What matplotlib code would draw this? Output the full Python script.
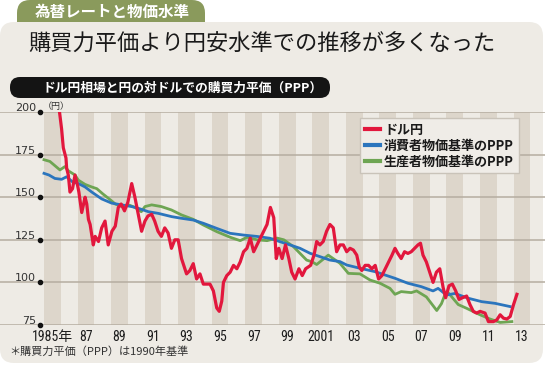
import matplotlib
matplotlib.use("Agg")
import matplotlib.pyplot as plt
from matplotlib.patches import FancyBboxPatch

plt.rcParams['font.family'] = ['Noto Sans CJK JP', 'DejaVu Sans']

# ---- data ----
usdjpy_t = [1985.0, 1985.3, 1985.6, 1985.75, 1985.9, 1986.05, 1986.15, 1986.31, 1986.35, 1986.45,
            1986.55, 1986.7, 1986.85, 1987.0, 1987.08, 1987.25, 1987.45, 1987.55, 1987.65, 1987.75,
            1987.94, 1988.05, 1988.25, 1988.44, 1988.64, 1988.83, 1989.05, 1989.25, 1989.43, 1989.6,
            1989.8, 1990.0, 1990.23, 1990.42, 1990.62, 1990.82, 1991.02, 1991.2, 1991.42, 1991.6,
            1991.8, 1992.0, 1992.2, 1992.4, 1992.6, 1992.8, 1993.0, 1993.2, 1993.5, 1993.7,
            1993.9, 1994.1, 1994.3, 1994.5, 1994.7, 1994.9, 1995.1, 1995.3, 1995.45, 1995.6,
            1995.7, 1995.9, 1996.1, 1996.3, 1996.5, 1996.7, 1996.9, 1997.1, 1997.3, 1997.5,
            1997.7, 1997.9, 1998.1, 1998.3, 1998.5, 1998.7, 1998.85, 1999.0, 1999.2, 1999.4,
            1999.6, 1999.77, 1999.97, 2000.2, 2000.4, 2000.6, 2000.9, 2001.1, 2001.26, 2001.45,
            2001.65, 2001.85, 2002.05, 2002.25, 2002.45, 2002.65, 2002.85, 2003.05, 2003.25, 2003.45,
            2003.65, 2003.8, 2003.95, 2004.15, 2004.35, 2004.55, 2004.75, 2004.95, 2005.15, 2005.35,
            2005.55, 2005.75, 2005.93, 2006.1, 2006.3, 2006.5, 2006.7, 2006.9, 2007.1, 2007.3,
            2007.45, 2007.6, 2007.8, 2008.0, 2008.2, 2008.4, 2008.6, 2008.8, 2008.95, 2009.15,
            2009.35, 2009.55, 2009.75, 2009.95, 2010.2, 2010.4, 2010.6, 2010.8, 2011.0, 2011.3,
            2011.5, 2011.8, 2012.0, 2012.2, 2012.4, 2012.6, 2012.8, 2013.0, 2013.2]
usdjpy = [254, 250, 240, 220, 202, 190, 179, 173, 167, 163,
          153, 155, 163, 157, 153, 141, 150, 146, 137, 134,
          122, 127, 124, 132, 136, 122, 130, 133, 144, 146,
          142, 147, 158, 150, 140, 130, 136, 139, 140, 136,
          130, 127, 132, 129, 120, 125, 125, 114, 105, 107,
          111, 102, 105, 99, 99, 99, 95, 85, 83, 89,
          100, 104, 106, 110, 108, 112, 118, 120, 126, 118,
          122, 126, 130, 134, 144, 138, 114, 120, 114, 122,
          114, 106, 102, 108, 104, 108, 110, 116, 124, 122,
          124, 130, 134, 132, 118, 122, 122, 118, 120, 119,
          116, 109, 107, 110, 110, 108, 110, 102, 104, 108,
          112, 116, 120, 117, 114, 118, 117, 118, 120, 122,
          123, 116, 112, 106, 100, 106, 108, 97, 91, 98,
          99, 95, 90, 91, 92, 87, 83, 82, 83, 82,
          77, 77, 78, 81, 79, 78.5, 80, 87, 93]

cpi_t = [1985.0, 1985.3, 1985.65, 1986.05, 1986.35, 1986.7, 1987.05, 1987.45, 1987.85, 1988.44,
         1989.04, 1989.63, 1990.23, 1990.62, 1991.22, 1991.82, 1992.61, 1993.21, 1993.9, 1994.5,
         1995.3, 1996.1, 1996.88, 1997.68, 1998.48, 1999.07, 1999.67, 2000.27, 2000.86, 2001.46,
         2002.05, 2002.65, 2003.05, 2003.84, 2004.74, 2005.93, 2006.7, 2007.5, 2008.2, 2008.5,
         2009.0, 2009.5, 2010.3, 2011.1, 2011.9, 2012.8]
cpi_ppp = [164, 163, 161, 160.5, 162, 159, 158, 156, 153, 149,
           146.5, 145.5, 144.5, 143.5, 141.5, 140.5, 138.6, 137.6, 136.6, 134.7,
           131.7, 128.8, 127.8, 127, 125.9, 123.9, 122, 120, 117.1, 115.1,
           113.1, 112.2, 110.2, 108.3, 106.3, 102.4, 99.5, 97.5, 95, 96.5,
           92.6, 93.5, 90.7, 88.7, 87.7, 85.8]

ppi_t = [1985.0, 1985.35, 1985.65, 1985.95, 1986.25, 1986.45, 1986.85, 1987.05, 1987.45, 1987.85,
         1988.15, 1988.5, 1988.95, 1989.25, 1989.65, 1990.05, 1990.43, 1990.8, 1991.02, 1991.42,
         1992.0, 1992.6, 1993.2, 1993.9, 1994.5, 1995.3, 1996.1, 1996.7, 1997.1, 1997.7,
         1998.3, 1998.9, 1999.3, 1999.87, 2000.66, 2001.0, 2001.26, 2001.95, 2002.65, 2003.15,
         2003.84, 2004.44, 2005.04, 2005.63, 2005.93, 2006.3, 2006.9, 2007.22, 2007.8, 2008.42,
         2008.7, 2008.9, 2009.1, 2009.7, 2010.2, 2011.0, 2011.6, 2012.2, 2012.9]
ppi_ppp = [172, 171, 168.5, 166, 168, 165.5, 163, 160, 157.5, 156,
           155, 152, 148.5, 146, 144.5, 145.5, 144, 141.5, 144.5, 145.5,
           144.5, 142.5, 139.6, 137, 133.7, 129.8, 126.5, 124.5, 126.5, 125,
           124.5, 126, 125, 121, 113.1, 112, 110.5, 116, 111.2, 105.3,
           105, 101.4, 99.5, 96.5, 93, 94.6, 94, 95, 91.5, 83.5,
           87.5, 92.6, 94, 87, 84.8, 81, 78.5, 76.5, 77]

yticks = [75, 100, 125, 150, 175, 200]
xtick_years = list(range(1985, 2014, 2))
xtick_labels = ['1985年', '87', '89', '91', '93', '95', '97', '99', '2001',
                '03', '05', '07', '09', '11', '13']

# ---- layout helpers (pixels of a 545x365 image) ----
W, H = 545, 365
X0, PXYR = 44.0, 16.77      # pixel of Jan 1985, pixels per year
Y200, Y75 = 112.0, 325.0


def yr(px):
    return 1985 + (px - X0) / PXYR


fig = plt.figure(figsize=(W / 100, H / 100), dpi=100)
fig.patch.set_facecolor('white')

bg = fig.add_axes([0, 0, 1, 1])
bg.set_xlim(0, W)
bg.set_ylim(H, 0)
bg.axis('off')

# tab, panel, subtitle pill
bg.add_patch(FancyBboxPatch((17, 0), 188, 45, boxstyle='round,pad=0,rounding_size=13',
                            fc='#8a9a5c', ec='none'))
bg.add_patch(FancyBboxPatch((0, 22), 543, 341, boxstyle='round,pad=0,rounding_size=14',
                            fc='#eeebe5', ec='none'))
bg.add_patch(FancyBboxPatch((10, 77), 320, 21, boxstyle='round,pad=0,rounding_size=10',
                            fc='#141414', ec='none'))

bg.text(112, 11.5, '為替レートと物価水準', color='white', fontsize=11.2, fontweight='bold',
        ha='center', va='center')
bg.text(28, 44, '購買力平価より円安水準での推移が多くなった', color='#1a1a1a', fontsize=16,
        ha='left', va='center')
bg.text(42, 88, 'ドル円相場と円の対ドルでの購買力平価（PPP）', color='white', fontsize=9.2,
        fontweight='bold', ha='left', va='center')
bg.text(43, 107, '（円）', color='#333333', fontsize=6.5, ha='left', va='center')
bg.text(9, 352, '＊購買力平価（PPP）は1990年基準', color='#333333', fontsize=8,
        ha='left', va='center')

# x labels (condensed look)
for y0, lab in zip(xtick_years, xtick_labels):
    xc = X0 + (y0 + 0.5 - 1985) * PXYR
    bg.text(xc, 337, lab, ha='center', va='center', fontsize=10, color='#1e1e1e',
            fontstretch='condensed',
            family=['Roboto Condensed', 'Noto Sans CJK JP', 'DejaVu Sans'])

# ---- main chart ----
ax = fig.add_axes([0, 1 - Y75 / H, 1, (Y75 - Y200) / H])
ax.set_facecolor('none')
ax.set_xlim(yr(0), yr(W))
ax.set_ylim(75, 200)
for s in ax.spines.values():
    s.set_visible(False)
ax.set_xticks([])
ax.set_yticks([])

for y0 in xtick_years:
    ax.axvspan(y0, y0 + 1, color='#ddd6cb', lw=0, zorder=0)
for v in yticks:
    ax.axhline(v, color='#b5ada1', lw=1.1, zorder=1)
    ax.text(yr(36), v + 0.6, str(v), ha='right', va='baseline', fontsize=8,
            color='#333333', family=['DejaVu Sans'], clip_on=False)
    ax.plot([yr(40)], [v], 'o', ms=3, color='#111111', zorder=5, clip_on=False)

l_red, = ax.plot(usdjpy_t, usdjpy, color='#e2173d', lw=2.3, zorder=4,
                 solid_joinstyle='round', label='ドル円')
l_blue, = ax.plot(cpi_t, cpi_ppp, color='#2b75bd', lw=2.0, zorder=3,
                  label='消費者物価基準のPPP')
l_green, = ax.plot(ppi_t, ppi_ppp, color='#6ea553', lw=2.0, zorder=2,
                   label='生産者物価基準のPPP')

leg = ax.legend(handles=[l_red, l_blue, l_green], loc='upper left',
                bbox_to_anchor=(360 / W, 1 - 118 / H), bbox_transform=fig.transFigure,
                prop={'size': 9.4, 'weight': 'bold'}, fancybox=False, borderpad=0.35,
                handlelength=1.2, handletextpad=0.3, labelspacing=0.15, borderaxespad=0)
leg.get_frame().set_facecolor('#efece7')
leg.get_frame().set_edgecolor('#c9c3b9')
leg.get_frame().set_alpha(1)
leg.get_frame().set_linewidth(1.0)
for t in leg.get_texts():
    t.set_color('#1a1a1a')
for h in leg.get_lines():
    h.set_linewidth(3)

fig.savefig('out.png', dpi=100)
